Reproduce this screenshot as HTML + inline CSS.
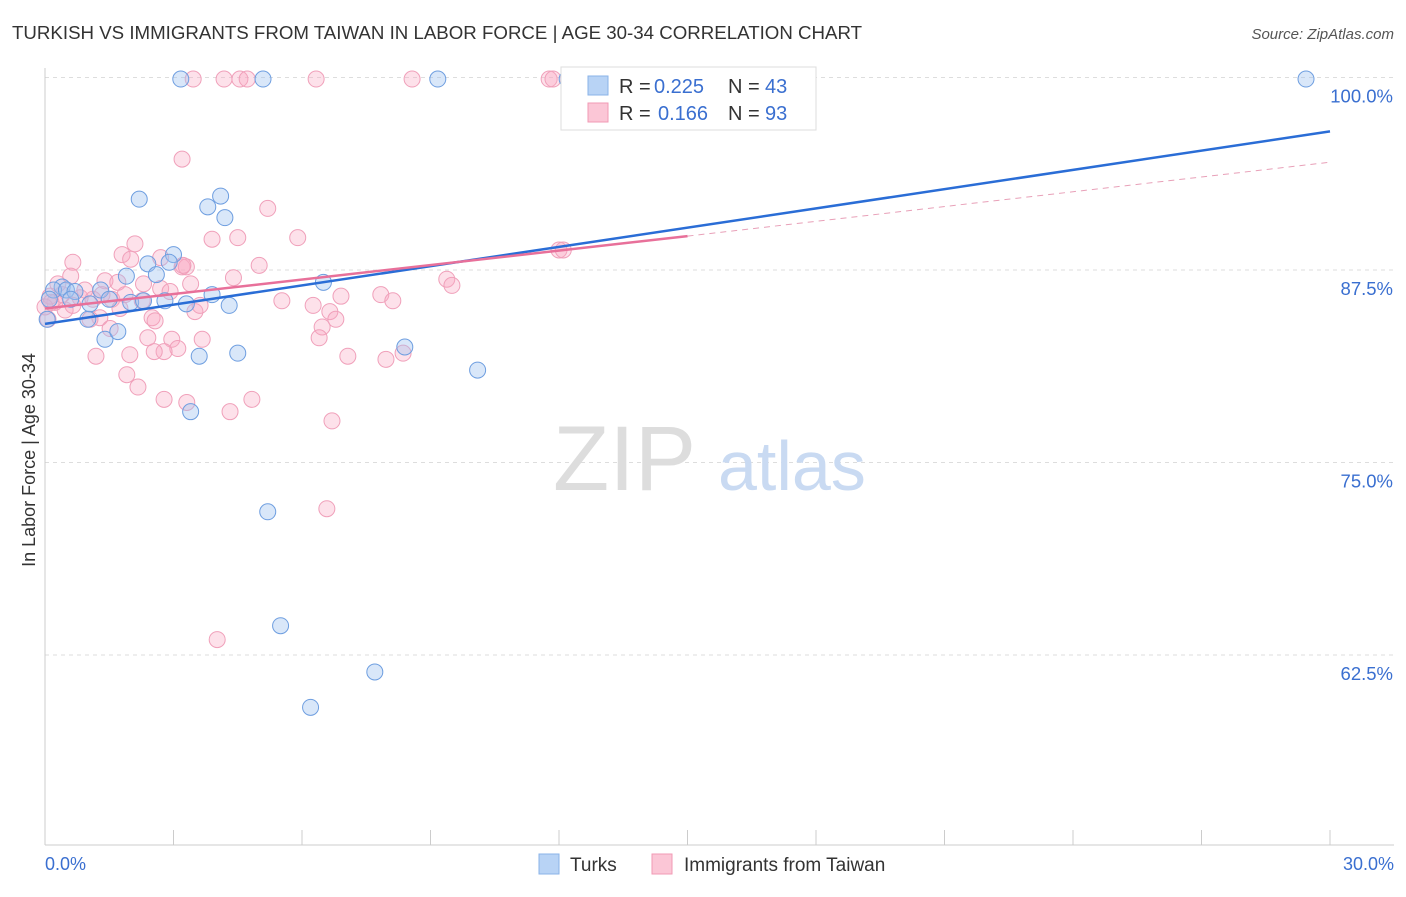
<!DOCTYPE html>
<html><head><meta charset="utf-8"><style>
body{margin:0;background:#fff;font-family:"Liberation Sans",sans-serif}
svg text{font-family:"Liberation Sans",sans-serif}
</style></head><body>
<svg id="c" width="1406" height="892">
<text x="12" y="39" font-size="18.7" fill="#333">TURKISH VS IMMIGRANTS FROM TAIWAN IN LABOR FORCE | AGE 30-34 CORRELATION CHART</text>
<text x="1394" y="39" font-size="15" fill="#555" text-anchor="end" font-style="italic">Source: ZipAtlas.com</text>
<text x="35" y="460" font-size="18" fill="#333" text-anchor="middle" transform="rotate(-90 35 460)">In Labor Force | Age 30-34</text>
<g id="grid"></g>
<text x="553" y="490" font-size="92" fill="#ddd" font-family="Liberation Serif">ZIP</text>
<text x="718" y="490" font-size="70" fill="#c9daf2">atlas</text>
<g id="pts"></g>
<g id="lines"></g>
<g>
<rect x="561" y="67" width="255" height="63" fill="#fff" stroke="#ddd"/>
<rect x="588" y="76" width="20" height="19" fill="#b8d3f5" stroke="#8ab3e8"/>
<rect x="588" y="103" width="20" height="19" fill="#fbc6d6" stroke="#f29ab4"/>
<text x="619" y="93" font-size="20" fill="#333">R =</text>
<text x="654" y="93" font-size="20" fill="#3a6fd0">0.225</text>
<text x="728" y="93" font-size="20" fill="#333">N =</text>
<text x="765" y="93" font-size="20" fill="#3a6fd0">43</text>
<text x="619" y="120" font-size="20" fill="#333">R =</text>
<text x="658" y="120" font-size="20" fill="#3a6fd0">0.166</text>
<text x="728" y="120" font-size="20" fill="#333">N =</text>
<text x="765" y="120" font-size="20" fill="#3a6fd0">93</text>
</g>
<g>
<rect x="539" y="854" width="20" height="20" fill="#b8d3f5" stroke="#8ab3e8"/>
<text x="570" y="871" font-size="19" fill="#333">Turks</text>
<rect x="652" y="854" width="20" height="20" fill="#fbc6d6" stroke="#f29ab4"/>
<text x="684" y="871" font-size="19" fill="#333">Immigrants from Taiwan</text>
</g>
<text x="45" y="870" font-size="18" fill="#3a6fd0">0.0%</text>
<text x="1394" y="870" font-size="18" fill="#3a6fd0" text-anchor="end">30.0%</text>
</svg>
<script>
const yTicks=[100,87.5,75,62.5];
const yTickLabels=["100.0%","87.5%","75.0%","62.5%"];
const turksX=[3.17,5.09,9.17,12.19,29.44,2.2,4.1,3.8,4.2,3.0,2.4,2.9,2.6,1.9,0.4,0.2,0.5,0.7,1.3,1.5,2.0,2.3,2.8,3.3,3.9,4.3,6.5,1.0,1.4,1.7,3.6,4.5,8.4,10.1,3.4,5.2,5.5,7.7,6.2,0.05,0.1,0.6,1.05];
const turksY=[99.9,99.9,99.9,99.9,99.9,92.1,92.3,91.6,90.9,88.5,87.9,88.0,87.2,87.1,86.4,86.2,86.2,86.1,86.2,85.6,85.4,85.5,85.5,85.3,85.9,85.2,86.7,84.3,83.0,83.5,81.9,82.1,82.5,81.0,78.3,71.8,64.4,61.4,59.1,84.3,85.6,85.6,85.3];
const taiwanX=[3.46,4.18,4.55,4.72,6.33,8.57,11.77,11.86,3.2,5.2,3.9,4.5,5.9,2.1,1.8,2.7,2.0,0.65,3.2,3.3,5.0,4.4,0.6,1.4,3.4,2.3,2.7,1.7,0.4,0.12,0.23,0.82,1.12,1.56,2.27,1.75,3.5,3.62,5.53,6.26,6.91,7.84,8.12,9.38,9.5,12.0,12.1,6.65,6.79,6.47,6.4,2.5,2.57,1.28,1.05,0.47,0.65,2.4,2.96,3.1,2.78,2.55,1.98,1.19,3.67,7.07,7.96,8.36,1.91,2.17,2.78,3.31,4.83,4.32,6.7,6.58,4.02,0.07,0.0,0.3,0.93,1.33,1.87,1.52,2.92,3.22,0.14];
const taiwanY=[99.9,99.9,99.9,99.9,99.9,99.9,99.9,99.9,94.7,91.5,89.5,89.6,89.6,89.2,88.5,88.3,88.2,88.0,87.7,87.7,87.8,87.0,87.1,86.8,86.6,86.6,86.3,86.7,85.9,85.8,85.4,85.7,85.6,85.6,85.5,85.0,84.8,85.2,85.5,85.2,85.8,85.9,85.5,86.9,86.5,88.8,88.8,84.8,84.3,83.8,83.1,84.4,84.2,84.4,84.3,84.9,85.2,83.1,83.0,82.4,82.2,82.2,82.0,81.9,83.0,81.9,81.7,82.1,80.7,79.9,79.1,78.9,79.1,78.3,77.7,72.0,63.5,84.3,85.1,86.6,86.2,85.9,85.9,83.7,86.1,87.8,85.4];
const turksLine=[[0,84.0],[30,96.5]];
const taiwanSolid=[[0,85.0],[15,89.7]];
const taiwanDash=[[15,89.7],[30,94.5]];
const X=v=>45+v/30*1285, Y=v=>77.5+(100-v)/12.5*192.5;
const ns="http://www.w3.org/2000/svg";
function mk(tag,at,parent){const e=document.createElementNS(ns,tag);for(const k in at)e.setAttribute(k,at[k]);document.getElementById(parent).appendChild(e);return e;}
yTicks.forEach((t,i)=>{
 const l=mk('line',{x1:45,x2:1394,y1:Y(t),y2:Y(t),stroke:'#ddd','stroke-dasharray':'4 4'},'grid');
 
 
 const tx=mk('text',{x:1393,y:Y(t)+25,'font-size':18.5,fill:'#3a6fd0','text-anchor':'end'},'grid');tx.textContent=yTickLabels[i];
 
 
});
const ax=mk('line',{x1:45,x2:45,y1:68,y2:845,stroke:'#ccc'},'grid');


const bx=mk('line',{x1:45,x2:1394,y1:845,y2:845,stroke:'#ccc'},'grid');


for(let i=1;i<=10;i++){const t=mk('line',{x1:X(i*3),x2:X(i*3),y1:830,y2:845,stroke:'#ccc'},'grid');
 
 }
taiwanX.forEach((v,i)=>{const c=mk('circle',{cx:X(v),cy:Y(taiwanY[i]),r:8,fill:'rgba(248,170,195,0.35)',stroke:'#f0a0ba','stroke-width':1},'pts');
 
 });
turksX.forEach((v,i)=>{const c=mk('circle',{cx:X(v),cy:Y(turksY[i]),r:8,fill:'rgba(160,195,240,0.4)',stroke:'#6e9ee0','stroke-width':1},'pts');
 
 });
let l1=mk('line',{x1:X(turksLine[0][0]),y1:Y(turksLine[0][1]),x2:X(turksLine[1][0]),y2:Y(turksLine[1][1]),stroke:'#2a6dd6','stroke-width':2.5},'lines');


let l2=mk('line',{x1:X(taiwanSolid[0][0]),y1:Y(taiwanSolid[0][1]),x2:X(taiwanSolid[1][0]),y2:Y(taiwanSolid[1][1]),stroke:'#e8709a','stroke-width':2.5},'lines');


let l3=mk('line',{x1:X(taiwanDash[0][0]),y1:Y(taiwanDash[0][1]),x2:X(taiwanDash[1][0]),y2:Y(taiwanDash[1][1]),stroke:'#e8a0b8','stroke-width':1,'stroke-dasharray':'6 5'},'lines');


</script>
</body></html>
